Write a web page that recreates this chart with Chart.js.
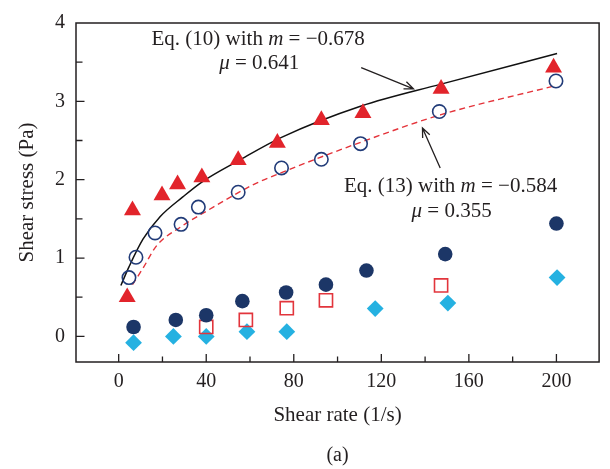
<!doctype html>
<html lang="en">
<head>
<meta charset="utf-8" />
<title>Shear stress vs shear rate</title>
<script src="https://cdn.jsdelivr.net/npm/chart.js@4.4.1/dist/chart.umd.min.js"></script>
<style>
  html, body { margin: 0; padding: 0; background: #fff; }
  .chartBox { width: 610px; height: 469px; position: relative; }
</style>
</head>
<body>
<div class="chartBox"><canvas id="shearChart"></canvas></div>
<script>
  // values
  var xTicks = [0, 40, 80, 120, 160, 200];
  var yTicks = [0, 1, 2, 3, 4];

  var triX = [3.9, 6.3, 19.8, 26.9, 38.0, 54.6, 72.5, 92.6, 111.6, 147.3, 198.7];
  var triY = [0.50, 1.61, 1.80, 1.94, 2.03, 2.25, 2.47, 2.76, 2.85, 3.16, 3.43];

  var openCircX = [4.7, 7.9, 16.6, 28.5, 36.4, 54.6, 74.4, 92.6, 110.5, 146.5, 199.8];
  var openCircY = [0.75, 1.01, 1.32, 1.43, 1.65, 1.84, 2.15, 2.26, 2.46, 2.87, 3.26];

  var dotX = [6.8, 26.1, 40.0, 56.5, 76.5, 94.7, 113.2, 149.2, 200.0];
  var dotY = [0.12, 0.21, 0.27, 0.45, 0.56, 0.66, 0.84, 1.05, 1.44];

  var sqX = [40.0, 58.1, 76.8, 94.7, 147.3];
  var sqY = [0.12, 0.21, 0.36, 0.46, 0.65];

  var diaX = [6.8, 25.0, 40.0, 58.6, 76.8, 117.2, 150.4, 200.3];
  var diaY = [-0.08, 0.00, 0.00, 0.06, 0.06, 0.355, 0.425, 0.75];

  // Eq. (10) curve (solid) and Eq. (13) curve (dashed)
  var eq10X = [1.0, 4.75, 11.1, 19.0, 29.3, 38.0, 54.6, 74.4, 110.8, 147.3, 200.3];
  var eq10Y = [0.65, 0.89, 1.24, 1.53, 1.78, 1.97, 2.24, 2.54, 2.94, 3.22, 3.61];

  var eq13X = [6.3, 11.1, 17.4, 28.5, 39.6, 61.8, 74.4, 110.8, 147.3, 199.5];
  var eq13Y = [0.66, 0.87, 1.16, 1.40, 1.59, 1.94, 2.09, 2.48, 2.83, 3.20];

  function pts(xs, ys) {
    return xs.map(function(x, i) { return { x: x, y: ys[i] }; });
  }

  var serif = '"Liberation Serif", "DejaVu Serif", serif';
  var ink = '#231f20';

  // text runs: [text, italic]
  var notes = [
    { x: 15.0, y: 3.79, runs: [['Eq. (10) with ', false], ['m', true], [' = \u22120.678', false]] },
    { x: 45.9, y: 3.48, runs: [['\u03bc', true], [' = 0.641', false]] },
    { x: 102.9, y: 1.91, runs: [['Eq. (13) with ', false], ['m', true], [' = \u22120.584', false]] },
    { x: 133.8, y: 1.60, runs: [['\u03bc', true], [' = 0.355', false]] }
  ];
  var arrows = [
    { x0: 110.8, y0: 3.43, x1: 134.7, y1: 3.16 },
    { x0: 146.9, y0: 2.15, x1: 138.8, y1: 2.66 }
  ];

  function drawRuns(ctx, runs, x, y) {
    runs.forEach(function(r) {
      ctx.font = (r[1] ? 'italic ' : '') + '21px ' + serif;
      ctx.fillText(r[0], x, y);
      x += ctx.measureText(r[0]).width;
    });
  }

  var decor = {
    id: 'decor',
    afterDatasetsDraw: function(chart) {
      var ctx = chart.ctx, a = chart.chartArea;
      var xs = chart.scales.x, ys = chart.scales.y;
      ctx.save();
      ctx.strokeStyle = ink;
      ctx.lineWidth = 1.5;
      ctx.strokeRect(a.left, a.top, a.right - a.left, a.bottom - a.top);

      // inward ticks
      ctx.lineWidth = 1.3;
      ctx.beginPath();
      for (var v = 0; v <= 200; v += 20) {
        var px = xs.getPixelForValue(v);
        var len = (v % 40 === 0) ? 8 : 5.5;
        ctx.moveTo(px, a.bottom);
        ctx.lineTo(px, a.bottom - len);
      }
      for (var w = 0; w < 4; w += 0.5) {
        var py = ys.getPixelForValue(w);
        var l2 = (w % 1 === 0) ? 8.5 : 6.5;
        ctx.moveTo(a.left, py);
        ctx.lineTo(a.left + l2, py);
      }
      ctx.stroke();

      // annotations
      ctx.fillStyle = ink;
      ctx.textBaseline = 'middle';
      ctx.textAlign = 'left';
      notes.forEach(function(n) {
        drawRuns(ctx, n.runs, xs.getPixelForValue(n.x), ys.getPixelForValue(n.y));
      });

      ctx.strokeStyle = ink;
      ctx.lineWidth = 1.3;
      arrows.forEach(function(ar) {
        var x0 = xs.getPixelForValue(ar.x0), y0 = ys.getPixelForValue(ar.y0);
        var x1 = xs.getPixelForValue(ar.x1), y1 = ys.getPixelForValue(ar.y1);
        var ang = Math.atan2(y1 - y0, x1 - x0);
        ctx.beginPath();
        ctx.moveTo(x0, y0);
        ctx.lineTo(x1, y1);
        ctx.moveTo(x1 - 10 * Math.cos(ang - 0.4), y1 - 10 * Math.sin(ang - 0.4));
        ctx.lineTo(x1, y1);
        ctx.lineTo(x1 - 10 * Math.cos(ang + 0.4), y1 - 10 * Math.sin(ang + 0.4));
        ctx.stroke();
      });

      // panel label
      ctx.font = '20px ' + serif;
      ctx.textAlign = 'center';
      ctx.fillText('(a)', (a.left + a.right) / 2, 456);
      ctx.restore();
    }
  };

  var ctx = document.getElementById('shearChart').getContext('2d');
  var chart = new Chart(ctx, {
    type: 'scatter',
    data: {
      datasets: [
        { data: pts(triX, triY), pointStyle: 'triangle', pointRadius: 9.8, backgroundColor: '#e2242b', borderWidth: 0, order: 1 },
        { data: pts(openCircX, openCircY), pointStyle: 'circle', pointRadius: 6.7, backgroundColor: 'rgba(0,0,0,0)', borderColor: '#213b78', borderWidth: 1.6, order: 1 },
        { data: pts(dotX, dotY), pointStyle: 'circle', pointRadius: 7.3, backgroundColor: '#1c3667', borderWidth: 0, order: 1 },
        { data: pts(sqX, sqY), pointStyle: 'rect', pointRadius: 9.3, backgroundColor: 'rgba(0,0,0,0)', borderColor: '#e2353c', borderWidth: 1.6, order: 1 },
        { data: pts(diaX, diaY), pointStyle: 'rectRot', pointRadius: 8.4, backgroundColor: '#25b1e1', borderWidth: 0, order: 1 },
        { data: pts(eq10X, eq10Y), showLine: true, pointRadius: 0, borderColor: '#111', borderWidth: 1.5, cubicInterpolationMode: 'monotone', order: 2 },
        { data: pts(eq13X, eq13Y), showLine: true, pointRadius: 0, borderColor: '#e4333a', borderWidth: 1.4, borderDash: [6, 4], cubicInterpolationMode: 'monotone', order: 2 }
      ]
    },
    options: {
      responsive: true,
      maintainAspectRatio: false,
      animation: false,
      devicePixelRatio: 1,
      layout: { padding: { top: 14, right: 4, left: 0, bottom: 0 } },
      plugins: { legend: { display: false }, tooltip: { enabled: false } },
      scales: {
        x: {
          type: 'linear', min: -19.5, max: 219.5,
          afterFit: function(s) { s.height = 107; },
          afterBuildTicks: function(s) { s.ticks = xTicks.map(function(v) { return { value: v }; }); },
          grid: { display: false, drawTicks: false },
          border: { display: false },
          ticks: { color: ink, padding: 8, font: { family: serif, size: 20 } },
          title: { display: true, text: 'Shear rate (1/s)', color: ink, font: { family: serif, size: 21 }, padding: { top: 0, bottom: 41 } }
        },
        y: {
          type: 'linear', min: -0.327, max: 4,
          afterFit: function(s) { s.width = 76; },
          afterBuildTicks: function(s) { s.ticks = yTicks.map(function(v) { return { value: v }; }); },
          grid: { display: false, drawTicks: false },
          border: { display: false },
          ticks: { color: ink, padding: 11, font: { family: serif, size: 20 } },
          title: { display: true, text: 'Shear stress (Pa)', color: ink, font: { family: serif, size: 21 }, padding: { top: 15, bottom: 0 } }
        }
      }
    },
    plugins: [decor]
  });
</script>
</body>
</html>
